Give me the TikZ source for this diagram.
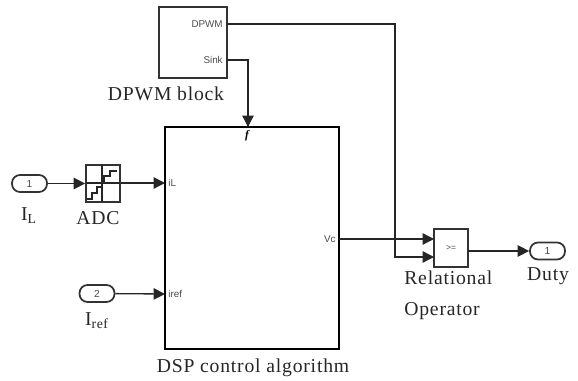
\documentclass[tikz,border=0pt]{standalone}
\usepackage{fontspec}
\setmainfont[LetterSpace=4]{Liberation Serif}
\setsansfont{Liberation Sans}
\usepackage{tikz}
\usetikzlibrary{arrows.meta}

\begin{document}
\begin{tikzpicture}[x=0.02cm,y=-0.02cm]
		\tikzstyle{block}=[draw=black!80,fill=white,line width=1pt,inner sep=0pt]
		\tikzstyle{port}=[block,rounded corners=0.16cm,minimum width=0.7cm,minimum height=0.34cm,font=\sffamily\fontsize{5.8}{6}\selectfont,text=black!70]
		\tikzstyle{wire}=[draw=black!85,line width=0.75pt]
		\tikzstyle{mapsto}=[wire,-{Triangle[length=6.5pt,width=6.5pt]}]
		\tikzstyle{icon}=[draw=black!85,line width=0.6pt]
		\tikzstyle{caption}=[font=\fontsize{11.2}{13}\selectfont,text=black!85,inner sep=0pt]
		\tikzstyle{signal}=[font=\sffamily\fontsize{5.6}{6}\selectfont,text=black!70,inner sep=0pt]
		\useasboundingbox (0,0) rectangle (578,381);
		% DPWM block
		\node [block,minimum width=1.36cm,minimum height=1.42cm] at (193,42.5) (dpwm) {};
		\node [signal,anchor=east] at (223,24) (dpwm-label) {DPWM};
		\node [signal,anchor=east] at (223,60) (sink-label) {Sink};
		\node [caption] at (166,94) (dpwm-name) {DPWM block};
		\coordinate (dpwm-out) at (227,24);
		\coordinate (sink-out) at (227,60);
		% DSP control algorithm
		\node [draw=black,fill=white,line width=1.6pt,inner sep=0pt,minimum width=3.48cm,minimum height=4.44cm] at (252,238) (dsp) {};
		\node [signal,anchor=west] at (168,183) (il-label) {iL};
		\node [signal,anchor=west] at (168,294) (iref-label) {iref};
		\node [signal,anchor=east] at (336,239) (vc-label) {Vc};
		\node [font=\bfseries\itshape\fontsize{6.5}{8}\selectfont,inner sep=0pt] at (247,136) (trigger-label) {f};
		\node [caption] at (253,368) (dsp-name) {DSP control algorithm};
		\coordinate (dsp-trigger) at (248,127);
		\coordinate (dsp-il) at (165,183);
		\coordinate (dsp-iref) at (165,294);
		\coordinate (dsp-vc) at (339,239);
		% inputs
		\node [port] at (29.5,183.5) (in1) {1};
		\node [caption] at (29,216) (in1-name) {I\textsubscript{L}};
		\node [port] at (97,293.5) (in2) {2};
		\node [caption] at (97,321) (in2-name) {I\textsubscript{ref}};
		% ADC
		\node [block,minimum width=0.68cm,minimum height=0.74cm] at (103,183.5) (adc) {};
		\node [caption] at (98,218) (adc-name) {ADC};
		\draw [icon] (102,165) -- (102,202);
		\draw [icon] (86,183) -- (120,183);
		\draw [icon] (87,199) -- (92,199) -- (92,193) -- (97,193) -- (97,187) -- (101,187);
		\draw [icon] (104,182) -- (104,176) -- (110,176) -- (110,171) -- (117,171);
		% relational operator
		\node [block,minimum width=0.68cm,minimum height=0.76cm,font=\sffamily\fontsize{4.8}{5}\selectfont,text=black!70] at (451,248) (rel) {>=};
		\node [caption,anchor=west] at (404,278) (rel-name) {Relational};
		\node [caption,anchor=west] at (404,311) (rel-name2) {Operator};
		\coordinate (rel-in1) at (434,239);
		\coordinate (rel-in2) at (434,257);
		\coordinate (rel-out) at (468,251);
		% output
		\node [port] at (547.5,251) (out1) {1};
		\node [caption] at (548,276) (out1-name) {Duty};
		% mapsto
		\draw [mapsto] (in1) -- (adc.west |- in1);
		\draw [mapsto] (adc.east |- dsp-il) -- (dsp-il);
		\draw [mapsto] (in2) -- (dsp-iref);
		\draw [mapsto] (sink-out) -| (dsp-trigger);
		\draw [mapsto] (dsp-vc) -- (rel-in1);
		\draw [mapsto] (dpwm-out) -- (395,24) |- (rel-in2);
		\draw [mapsto] (rel-out) -- (out1.west |- rel-out);
	\end{tikzpicture}
\end{document}
